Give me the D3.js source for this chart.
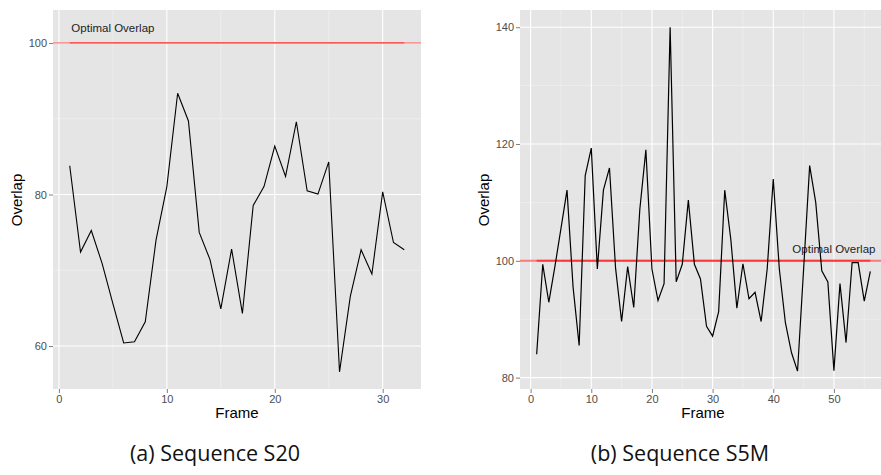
<!DOCTYPE html>
<html>
<head>
<meta charset="utf-8">
<script src="https://cdn.jsdelivr.net/npm/d3@7"></script>
<style>
  body { margin: 0; background: #fff; }
  svg { display: block; }
  svg text { font-family: 'Liberation Sans', Arial, sans-serif; }
  svg text.caption { font-family: 'Open Sans', sans-serif; }
</style>
</head>
<body>
<div id="chart"></div>
<script>
// overlap per frame
const framesA = d3.range(1, 33);
const overlapA = [83.8, 72.4, 75.25, 70.9, 65.6, 60.4, 60.57, 63.2, 74.0, 81.05,
  93.37, 89.7, 75.0, 71.4, 64.9, 72.8, 64.3, 78.55, 81.05, 86.4,
  82.4, 89.6, 80.5, 80.05, 84.3, 56.6, 66.55, 72.7, 69.5, 80.35,
  73.66, 72.7];

const framesB = d3.range(1, 57);
const overlapB = [84.0, 99.4, 92.9, 99.0, 105.5, 112.1, 95.5, 85.5, 114.6, 119.3,
  98.6, 112.1, 115.9, 98.8, 89.6, 99.0, 92.0, 108.8, 119.0, 98.6,
  93.2, 96.1, 140.0, 96.4, 99.4, 110.4, 99.4, 96.9, 88.8, 87.1,
  91.3, 112.1, 103.7, 91.9, 99.5, 93.5, 94.6, 89.6, 98.6, 114.0,
  98.6, 89.4, 84.3, 81.1, 98.5, 116.3, 110.0, 98.3, 96.4, 81.2,
  96.1, 86.0, 99.7, 99.7, 93.1, 98.2];

const optimal = 100;
const label = 'Optimal Overlap';

const panels = [
  { frames: framesA, values: overlapA, left: 53, right: 421, xDomain: [-0.55, 33.55], yDomain: [54.33, 104.35],
    xTicks: [0, 10, 20, 30], xMinor: [5, 15, 25], yTicks: [60, 80, 100], yMinor: [70, 90],
    labelX: 5, caption: '(a) Sequence S20', captionX: 215, frameX: 237, redW: 1.3, lineW: 1.1 },
  { frames: framesB, values: overlapB, left: 520, right: 887, xDomain: [-1.75, 58.75], yDomain: [78.05, 142.95],
    xTicks: [0, 10, 20, 30, 40, 50], xMinor: [5, 15, 25, 35, 45, 55], yTicks: [80, 100, 120, 140], yMinor: [90, 110, 130],
    labelX: 50, caption: '(b) Sequence S5M', captionX: 680, frameX: 703, redW: 1.9, lineW: 1.2 }
];

const w = 881;
const h = 475;
const padTop = 10;
const padBottom = 389;

const svg = d3.select('#chart')
  .append('svg')
  .attr('width', w)
  .attr('height', h);

panels.forEach(p => {
  const xScale = d3.scaleLinear().domain(p.xDomain).range([p.left, p.right]);
  const yScale = d3.scaleLinear().domain(p.yDomain).range([padBottom, padTop]);
  const g = svg.append('g');

  g.append('rect')
    .attr('x', p.left).attr('y', padTop)
    .attr('width', p.right - p.left).attr('height', padBottom - padTop)
    .attr('fill', '#e5e5e5');

  // minor grid
  g.selectAll('.vminor').data(p.xMinor).enter().append('line')
    .attr('x1', d => xScale(d)).attr('x2', d => xScale(d))
    .attr('y1', padTop).attr('y2', padBottom)
    .attr('stroke', '#f2f2f2').attr('stroke-width', 0.6);
  g.selectAll('.hminor').data(p.yMinor).enter().append('line')
    .attr('y1', d => yScale(d)).attr('y2', d => yScale(d))
    .attr('x1', p.left).attr('x2', p.right)
    .attr('stroke', '#f2f2f2').attr('stroke-width', 0.6);

  // major grid
  g.selectAll('.vmajor').data(p.xTicks).enter().append('line')
    .attr('x1', d => xScale(d)).attr('x2', d => xScale(d))
    .attr('y1', padTop).attr('y2', padBottom)
    .attr('stroke', '#fff').attr('stroke-width', 1.1);
  g.selectAll('.hmajor').data(p.yTicks).enter().append('line')
    .attr('y1', d => yScale(d)).attr('y2', d => yScale(d))
    .attr('x1', p.left).attr('x2', p.right)
    .attr('stroke', '#fff').attr('stroke-width', 1.1);

  // optimal overlap lines
  g.append('line')
    .attr('x1', p.left).attr('x2', p.right)
    .attr('y1', yScale(optimal)).attr('y2', yScale(optimal))
    .attr('stroke', '#ff0000').attr('stroke-opacity', 0.5).attr('stroke-width', p.redW);
  g.append('line')
    .attr('x1', xScale(p.frames[0])).attr('x2', xScale(p.frames[p.frames.length - 1]))
    .attr('y1', yScale(optimal)).attr('y2', yScale(optimal))
    .attr('stroke', '#ff0000').attr('stroke-opacity', 0.55).attr('stroke-width', p.redW);

  g.append('text')
    .attr('x', xScale(p.labelX)).attr('y', yScale(102))
    .attr('dy', '0.35em')
    .attr('text-anchor', 'middle')
    .attr('font-size', 11.5)
    .attr('fill', '#222')
    .text(label);

  const line = d3.line()
    .x((d, i) => xScale(p.frames[i]))
    .y(d => yScale(d));

  g.append('path')
    .datum(p.values)
    .attr('d', line)
    .attr('fill', 'none')
    .attr('stroke', '#000')
    .attr('stroke-width', p.lineW)
    .attr('stroke-linejoin', 'miter');

  // axes
  const xAxis = d3.axisBottom(xScale).tickValues(p.xTicks).tickSize(4).tickPadding(2);
  const yAxis = d3.axisLeft(yScale).tickValues(p.yTicks).tickSize(4).tickPadding(2);

  const xg = g.append('g').attr('transform', `translate(0, ${padBottom})`).call(xAxis);
  const yg = g.append('g').attr('transform', `translate(${p.left}, 0)`).call(yAxis);
  [xg, yg].forEach(a => {
    a.select('.domain').remove();
    a.selectAll('line').attr('stroke', '#7f7f7f');
    a.selectAll('text').attr('fill', '#4d4d4d').attr('font-size', 11);
  });

  g.append('text')
    .attr('x', p.frameX)
    .attr('y', 418)
    .attr('text-anchor', 'middle')
    .attr('font-size', 15)
    .text('Frame');

  g.append('text')
    .attr('transform', `translate(${p.left - 31}, 200) rotate(-90)`)
    .attr('text-anchor', 'middle')
    .attr('font-size', 15)
    .text('Overlap');

  svg.append('text')
    .attr('class', 'caption')
    .attr('x', p.captionX).attr('y', 461)
    .attr('text-anchor', 'middle')
    .attr('font-size', 21.5)
    .attr('fill', '#111')
    .text(p.caption);
});
</script>
</body>
</html>
